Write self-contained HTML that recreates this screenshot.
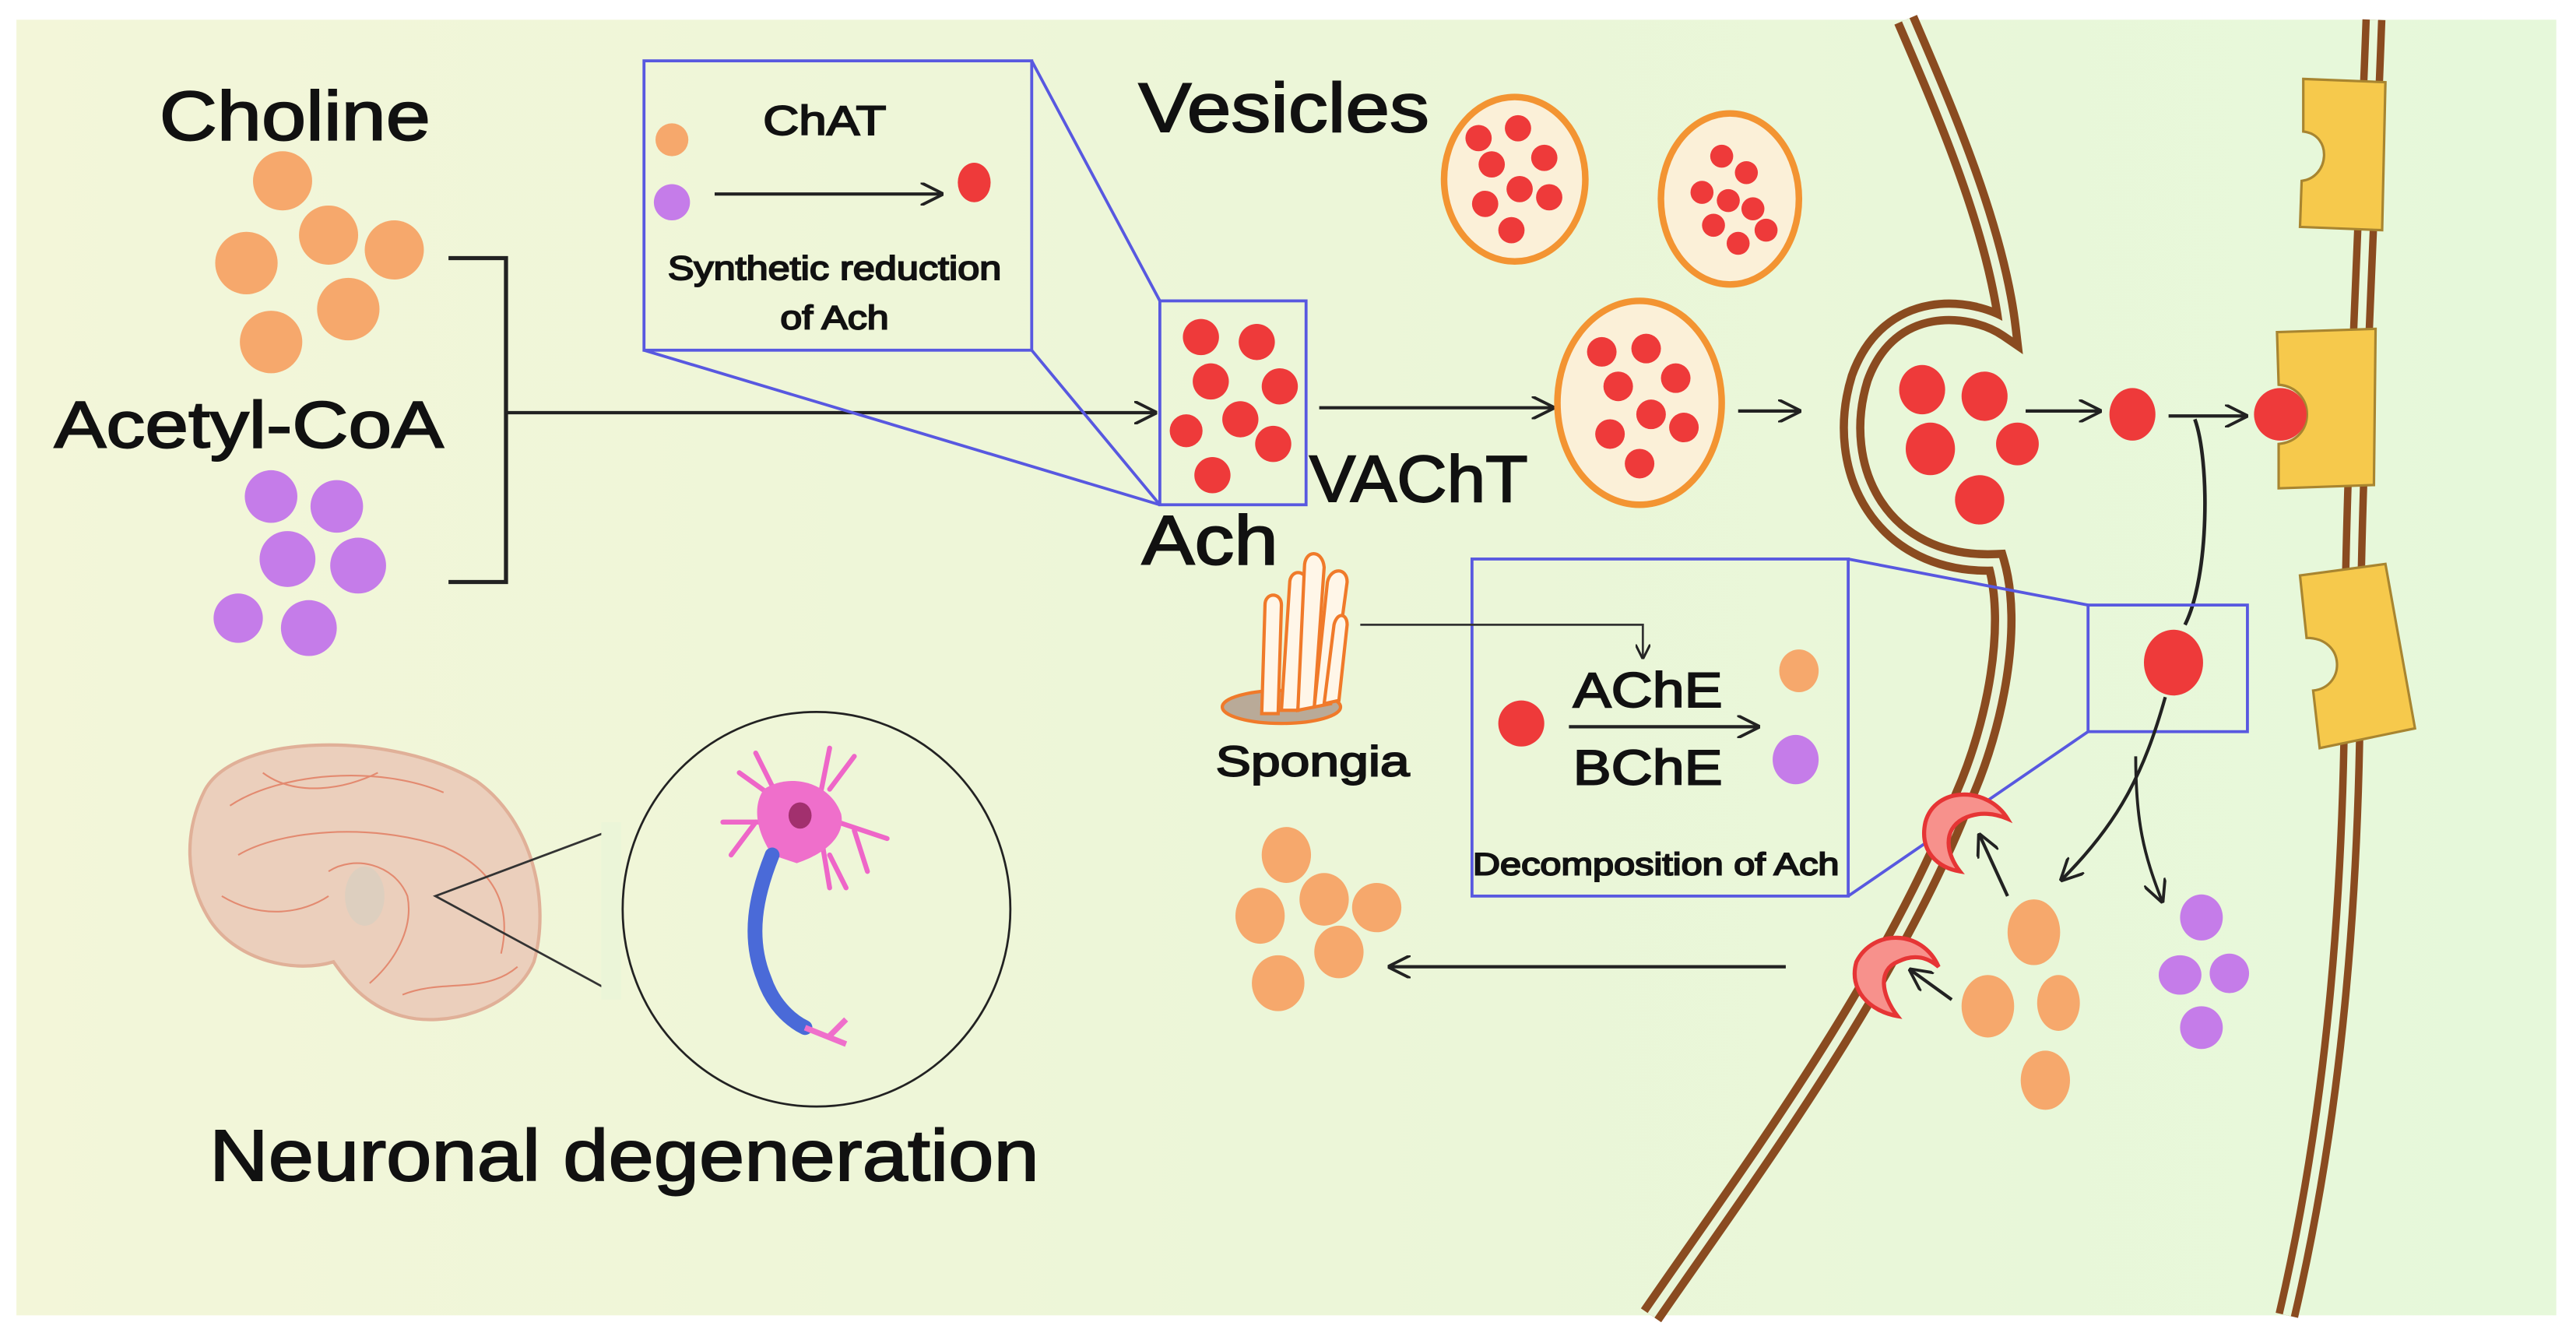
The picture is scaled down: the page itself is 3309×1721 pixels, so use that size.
<!DOCTYPE html>
<html><head><meta charset="utf-8"><style>
html,body{margin:0;padding:0;background:#fff;}
svg{display:block;}
text{font-family:"Liberation Sans",sans-serif;font-weight:normal;fill:#111;stroke:#111;stroke-width:0.9;}
</style></head><body>
<svg width="3309" height="1721" viewBox="0 0 1568 815" preserveAspectRatio="none" xmlns="http://www.w3.org/2000/svg">
<defs>
<linearGradient id="bg" x1="0" y1="0" x2="1" y2="0">
<stop offset="0" stop-color="#f3f6d9"/><stop offset="0.5" stop-color="#ecf6d8"/><stop offset="1" stop-color="#e6f8da"/>
</linearGradient>
<marker id="ar" viewBox="0 0 10 10" refX="9" refY="5" markerWidth="9" markerHeight="9" orient="auto" markerUnits="userSpaceOnUse">
<path d="M0,0 L10,5 L0,10" fill="none" stroke="#222" stroke-width="1.6"/></marker>
<marker id="ar2" viewBox="0 0 10 10" refX="9" refY="5" markerWidth="14" markerHeight="14" orient="auto" markerUnits="userSpaceOnUse">
<path d="M0,0 L10,5 L0,10" fill="none" stroke="#222" stroke-width="1.3"/></marker>
</defs>
<rect x="0" y="0" width="1568" height="815" fill="#fff"/>
<rect x="10" y="12" width="1546" height="788" fill="url(#bg)"/>

<!-- membranes -->
<path d="M1160,12 C1185,70 1215,140 1222,200 C1200,185 1150,180 1132,230 C1115,285 1145,345 1215,342 C1226,380 1215,440 1195,485 C1150,600 1060,720 1005,800" fill="none" stroke="#8a4b20" stroke-width="15"/>
<path d="M1160,12 C1185,70 1215,140 1222,200 C1200,185 1150,180 1132,230 C1115,285 1145,345 1215,342 C1226,380 1215,440 1195,485 C1150,600 1060,720 1005,800" fill="none" stroke="#e9f5d8" stroke-width="5"/>
<path d="M1445,12 C1440,150 1432,300 1432,400 C1432,550 1420,680 1392,800" fill="none" stroke="#8a4b20" stroke-width="14"/>
<path d="M1445,12 C1440,150 1432,300 1432,400 C1432,550 1420,680 1392,800" fill="none" stroke="#e8f8da" stroke-width="5"/>

<!-- receptors -->
<path d="M1402,48 L1452,50 L1450,140 L1400,138 L1401,110 C1418,108 1420,82 1402,80 Z" fill="#f6c94c" stroke="#a88530" stroke-width="1.5"/>
<path d="M1386,202 L1446,200 L1445,295 L1387,297 L1387,270 C1410,268 1410,236 1387,234 Z" fill="#f6c94c" stroke="#a88530" stroke-width="1.5"/>
<path d="M1400,350 L1452,343 L1470,443 L1412,455 L1408,420 C1428,418 1428,388 1404,388 Z" fill="#f6c94c" stroke="#a88530" stroke-width="1.5"/>
<circle cx="1388" cy="252" r="16" fill="#ee3a3a"/>

<!-- left: choline / acetyl-coa -->
<text x="97" y="85" font-size="42" textLength="165" lengthAdjust="spacingAndGlyphs">Choline</text>
<g fill="#f6a86c">
<circle cx="172" cy="110" r="18"/><circle cx="200" cy="143" r="18"/><circle cx="240" cy="152" r="18"/>
<circle cx="150" cy="160" r="19"/><circle cx="212" cy="188" r="19"/><circle cx="165" cy="208" r="19"/>
</g>
<text x="33" y="272" font-size="40" textLength="237" lengthAdjust="spacingAndGlyphs">Acetyl-CoA</text>
<g fill="#c57ce9">
<circle cx="165" cy="302" r="16"/><circle cx="205" cy="308" r="16"/><circle cx="175" cy="340" r="17"/>
<circle cx="218" cy="344" r="17"/><circle cx="145" cy="376" r="15"/><circle cx="188" cy="382" r="17"/>
</g>
<path d="M273,157 H308 V354 H273" fill="none" stroke="#222" stroke-width="2.5"/>
<line x1="308" y1="251" x2="703" y2="251" stroke="#222" stroke-width="2" marker-end="url(#ar2)"/>

<!-- ChAT box -->
<g stroke="#5858e0" stroke-width="1.8" fill="none">
<rect x="392" y="37" width="236" height="176"/>
<line x1="628" y1="37" x2="706" y2="183"/>
<line x1="392" y1="213" x2="706" y2="307"/>
<line x1="628" y1="213" x2="706" y2="307"/>
<rect x="706" y="183" width="89" height="124"/>
</g>
<circle cx="409" cy="85" r="10" fill="#f6a86c"/>
<circle cx="409" cy="123" r="11" fill="#c57ce9"/>
<line x1="435" y1="118" x2="573" y2="118" stroke="#222" stroke-width="2" marker-end="url(#ar2)"/>
<ellipse cx="593" cy="111" rx="10" ry="12" fill="#ee3a3a"/>
<text x="502" y="82" font-size="25" text-anchor="middle" textLength="75" lengthAdjust="spacingAndGlyphs" stroke-width="0.5">ChAT</text>
<text x="508" y="170" font-size="20" text-anchor="middle" textLength="203" lengthAdjust="spacingAndGlyphs" stroke-width="0.4">Synthetic reduction</text>
<text x="508" y="200" font-size="20" text-anchor="middle" textLength="66" lengthAdjust="spacingAndGlyphs" stroke-width="0.4">of Ach</text>

<g fill="#ee3a3a">
<circle cx="731" cy="205" r="11"/><circle cx="765" cy="208" r="11"/><circle cx="737" cy="232" r="11"/>
<circle cx="779" cy="235" r="11"/><circle cx="755" cy="255" r="11"/><circle cx="722" cy="262" r="10"/>
<circle cx="775" cy="270" r="11"/><circle cx="738" cy="289" r="11"/>
</g>
<line x1="803" y1="248" x2="945" y2="248" stroke="#222" stroke-width="2" marker-end="url(#ar2)"/>
<text x="797" y="305" font-size="40" textLength="133" lengthAdjust="spacingAndGlyphs">VAChT</text>
<text x="695" y="343" font-size="42" textLength="83" lengthAdjust="spacingAndGlyphs">Ach</text>
<text x="693" y="80" font-size="42" textLength="177" lengthAdjust="spacingAndGlyphs">Vesicles</text>

<!-- vesicles -->
<g stroke="#f39432" stroke-width="4" fill="#fbf0d8">
<ellipse cx="922" cy="109" rx="43" ry="50"/>
<ellipse cx="1053" cy="121" rx="42" ry="52"/>
<ellipse cx="998" cy="245" rx="50" ry="62"/>
</g>
<g fill="#ee3a3a">
<circle cx="900" cy="84" r="8"/><circle cx="924" cy="78" r="8"/><circle cx="940" cy="96" r="8"/>
<circle cx="908" cy="100" r="8"/><circle cx="925" cy="115" r="8"/><circle cx="904" cy="124" r="8"/>
<circle cx="943" cy="120" r="8"/><circle cx="920" cy="140" r="8"/>
<circle cx="1048" cy="95" r="7"/><circle cx="1063" cy="105" r="7"/><circle cx="1036" cy="117" r="7"/>
<circle cx="1052" cy="122" r="7"/><circle cx="1067" cy="127" r="7"/><circle cx="1043" cy="137" r="7"/>
<circle cx="1075" cy="140" r="7"/><circle cx="1058" cy="148" r="7"/>
<circle cx="975" cy="214" r="9"/><circle cx="1002" cy="212" r="9"/><circle cx="985" cy="235" r="9"/>
<circle cx="1020" cy="230" r="9"/><circle cx="1005" cy="252" r="9"/><circle cx="980" cy="264" r="9"/>
<circle cx="1025" cy="260" r="9"/><circle cx="998" cy="282" r="9"/>
</g>
<line x1="1058" y1="250" x2="1095" y2="250" stroke="#222" stroke-width="2" marker-end="url(#ar2)"/>

<!-- synaptic -->
<g fill="#ee3a3a">
<ellipse cx="1170" cy="237" rx="14" ry="15"/><ellipse cx="1208" cy="241" rx="14" ry="15"/>
<ellipse cx="1175" cy="273" rx="15" ry="16"/><ellipse cx="1228" cy="270" rx="13" ry="13"/>
<ellipse cx="1205" cy="304" rx="15" ry="15"/>
<ellipse cx="1298" cy="252" rx="14" ry="16"/>
<ellipse cx="1323" cy="403" rx="18" ry="20"/>
</g>
<line x1="1233" y1="250" x2="1278" y2="250" stroke="#222" stroke-width="2" marker-end="url(#ar2)"/>
<line x1="1320" y1="253" x2="1367" y2="253" stroke="#222" stroke-width="2" marker-end="url(#ar2)"/>
<path d="M1336,255 C1345,280 1345,350 1330,380" fill="none" stroke="#222" stroke-width="2.2"/>

<!-- decomposition -->
<g stroke="#5858e0" stroke-width="1.8" fill="none">
<rect x="896" y="340" width="229" height="205"/>
<rect x="1271" y="368" width="97" height="77"/>
<line x1="1125" y1="340" x2="1271" y2="368"/>
<line x1="1125" y1="545" x2="1271" y2="445"/>
</g>
<circle cx="926" cy="440" r="14" fill="#ee3a3a"/>
<text x="1003" y="430" font-size="30" text-anchor="middle" textLength="91" lengthAdjust="spacingAndGlyphs">AChE</text>
<text x="1003" y="477" font-size="30" text-anchor="middle" textLength="91" lengthAdjust="spacingAndGlyphs">BChE</text>
<line x1="955" y1="442" x2="1070" y2="442" stroke="#222" stroke-width="2" marker-end="url(#ar2)"/>
<ellipse cx="1095" cy="408" rx="12" ry="13" fill="#f6a86c"/>
<ellipse cx="1093" cy="462" rx="14" ry="15" fill="#c57ce9"/>
<text x="1008" y="532" font-size="19" text-anchor="middle" textLength="223" lengthAdjust="spacingAndGlyphs" stroke-width="0.4">Decomposition of Ach</text>

<!-- spongia -->
<g>
<ellipse cx="780" cy="430" rx="36" ry="10" fill="#b9aa98" stroke="#f07a2a" stroke-width="2"/>
<g fill="#fff6e8" stroke="#f07a2a" stroke-width="2">
<path d="M768,434 L770,368 C770,360 780,360 780,368 L778,434 Z"/>
<path d="M780,432 L785,355 C785,346 795,346 796,355 L790,432 Z"/>
<path d="M790,432 L794,345 C794,334 805,334 806,345 L800,430 Z"/>
<path d="M800,430 L808,354 C810,345 820,345 820,354 L810,428 Z"/>
<path d="M806,428 L812,380 C814,372 820,373 820,380 L815,426 Z"/>
</g>
</g>
<text x="740" y="472" font-size="26" textLength="118" lengthAdjust="spacingAndGlyphs" stroke-width="0.6">Spongia</text>
<polyline points="828,380 1000,380 1000,400" fill="none" stroke="#333" stroke-width="1.3" marker-end="url(#ar)"/>

<!-- bottom right -->
<path d="M1318,424 C1305,470 1290,500 1255,535" fill="none" stroke="#222" stroke-width="2" marker-end="url(#ar2)"/>
<path d="M1300,460 C1300,500 1305,520 1316,548" fill="none" stroke="#222" stroke-width="1.8" marker-end="url(#ar2)"/>
<g fill="#c57ce9">
<ellipse cx="1340" cy="558" rx="13" ry="14"/><ellipse cx="1327" cy="593" rx="13" ry="12"/>
<ellipse cx="1357" cy="592" rx="12" ry="12"/><ellipse cx="1340" cy="625" rx="13" ry="13"/>
</g>
<g fill="#f6a86c">
<ellipse cx="1238" cy="567" rx="16" ry="20"/><ellipse cx="1210" cy="612" rx="16" ry="19"/>
<ellipse cx="1253" cy="610" rx="13" ry="17"/><ellipse cx="1245" cy="657" rx="15" ry="18"/>
</g>
<line x1="1222" y1="545" x2="1205" y2="508" stroke="#222" stroke-width="2" marker-end="url(#ar2)"/>
<line x1="1188" y1="608" x2="1163" y2="590" stroke="#222" stroke-width="2" marker-end="url(#ar2)"/>
<g fill="#f7918c" stroke="#e63535" stroke-width="2.5">
<path d="M1222,498 C1210,478 1178,478 1172,500 C1168,518 1180,528 1193,530 C1185,520 1182,505 1195,498 C1205,493 1215,495 1222,498 Z"/>
<path d="M1180,588 C1170,565 1140,565 1130,585 C1125,602 1138,615 1155,618 C1145,605 1143,590 1155,585 C1165,580 1173,582 1180,588 Z"/>
</g>
<line x1="1087" y1="588" x2="846" y2="588" stroke="#222" stroke-width="2" marker-end="url(#ar2)"/>
<g fill="#f6a86c">
<ellipse cx="783" cy="520" rx="15" ry="17"/><ellipse cx="767" cy="557" rx="15" ry="17"/>
<ellipse cx="806" cy="547" rx="15" ry="16"/><ellipse cx="838" cy="552" rx="15" ry="15"/>
<ellipse cx="815" cy="579" rx="15" ry="16"/><ellipse cx="778" cy="598" rx="16" ry="17"/>
</g>

<!-- brain -->
<path d="M125,480 C145,445 240,445 290,475 C325,500 335,550 325,585 C312,615 270,625 245,618 C222,612 210,595 203,585 C180,592 145,585 128,560 C112,535 112,505 125,480 Z" fill="#ebcfbc" stroke="#e0b098" stroke-width="2"/>
<g fill="none" stroke="#e38a70" stroke-width="1">
<path d="M140,490 C170,470 230,465 270,482"/>
<path d="M145,520 C170,505 225,500 270,515 C300,528 312,550 305,580"/>
<path d="M200,530 C215,520 240,525 248,545 C252,565 240,585 225,598"/>
<path d="M135,545 C160,560 185,555 200,545"/>
<path d="M245,605 C270,595 295,605 315,588"/>
<path d="M160,470 C180,485 210,480 230,470"/>
</g>
<ellipse cx="222" cy="545" rx="12" ry="18" fill="#d7cfc0" opacity="0.7"/>
<ellipse cx="497" cy="553" rx="118" ry="120" fill="none" stroke="#222" stroke-width="1.3"/>
<polyline points="372,505 265,545 372,603" fill="none" stroke="#333" stroke-width="1.3"/>
<rect x="366" y="500" width="12" height="108" fill="#ebf5d8"/>

<!-- neuron -->
<g stroke="#ee66c8" stroke-width="3" fill="none" stroke-linecap="round">
<line x1="478" y1="490" x2="450" y2="470"/><line x1="470" y1="478" x2="460" y2="458"/>
<line x1="500" y1="480" x2="505" y2="455"/><line x1="505" y1="480" x2="520" y2="460"/>
<line x1="495" y1="495" x2="540" y2="510"/><line x1="520" y1="505" x2="528" y2="530"/>
<line x1="480" y1="500" x2="440" y2="500"/><line x1="460" y1="500" x2="445" y2="520"/>
<line x1="500" y1="510" x2="505" y2="540"/><line x1="505" y1="520" x2="515" y2="540"/>
</g>
<path d="M465,480 C480,470 505,475 512,495 C515,510 500,520 485,525 L470,520 C460,505 458,490 465,480 Z" fill="#ef6fcb"/>
<ellipse cx="487" cy="496" rx="7" ry="8" fill="#a2306e"/>
<path d="M470,520 C460,545 455,570 465,595 C470,610 480,620 490,625" fill="none" stroke="#4a6ad8" stroke-width="9" stroke-linecap="round"/>
<path d="M490,625 L515,635 M505,630 L515,620" stroke="#ef6fcb" stroke-width="3.5" fill="none"/>

<text x="380" y="718" font-size="44" text-anchor="middle" textLength="505" lengthAdjust="spacingAndGlyphs">Neuronal degeneration</text>
</svg>
</body></html>
